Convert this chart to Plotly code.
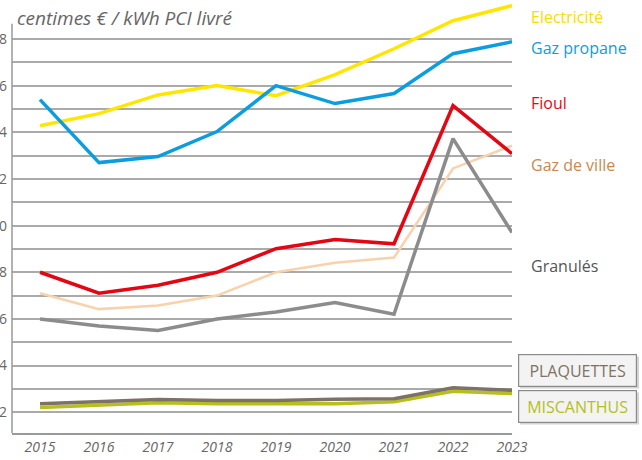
import plotly.graph_objects as go

years = [2015, 2016, 2017, 2018, 2019, 2020, 2021, 2022, 2023]

electricite = [14.28, 14.8, 15.6, 16.0, 15.57, 16.47, 17.58, 18.78, 19.43]
gaz_propane = [15.4, 12.7, 12.96, 14.03, 16.0, 15.23, 15.66, 17.37, 17.88]
fioul = [8.0, 7.1, 7.44, 8.0, 9.01, 9.4, 9.22, 15.14, 13.08]
gaz_de_ville = [7.1, 6.42, 6.58, 7.0, 8.0, 8.41, 8.63, 12.45, 13.43]
granules = [6.0, 5.7, 5.5, 6.0, 6.3, 6.7, 6.2, 13.73, 9.7]
plaquettes = [2.36, 2.47, 2.55, 2.5, 2.5, 2.56, 2.58, 3.05, 2.94]
miscanthus = [2.2, 2.3, 2.41, 2.36, 2.36, 2.36, 2.45, 2.9, 2.8]

y_ticks = list(range(2, 19))
y_ticktext = [str(v) if v % 2 == 0 else "" for v in y_ticks]

series = [
    ("Miscanthus", miscanthus, "#b6bf1c", 3.5),
    ("Plaquettes", plaquettes, "#7d7265", 3.5),
    ("Gaz de ville", gaz_de_ville, "#f7d2ad", 2.5),
    ("Granulés", granules, "#8c8c8c", 3.5),
    ("Fioul", fioul, "#e30613", 3.5),
    ("Electricité", electricite, "#ffe600", 3.5),
    ("Gaz propane", gaz_propane, "#0b9ddf", 3.5),
]

fig = go.Figure()
for name, vals, color, w in series:
    fig.add_trace(go.Scatter(x=years, y=vals, mode="lines", name=name,
                             line=dict(color=color, width=w), showlegend=False))

FONT = "Open Sans"
H_PLOT = 433.0

def py(pix):
    return (H_PLOT - pix) / H_PLOT

def px(pix):
    return (pix - 12) / 500.0

labels = [
    ("Electricité", "#f5dd00", 17),
    ("Gaz propane", "#0b9ddf", 48),
    ("Fioul", "#e30613", 103),
    ("Gaz de ville", "#c8884f", 165),
    ("Granulés", "#555555", 266),
]
for text, color, ypix in labels:
    fig.add_annotation(x=px(529), y=py(ypix), xref="paper", yref="paper",
                       text=text, showarrow=False, xanchor="left", yanchor="middle",
                       font=dict(family=FONT, size=16, color=color))

boxes = [
    ("PLAQUETTES", "#7d7265", 370.5),
    ("MISCANTHUS", "#b6bf1c", 406.5),
]
for text, color, ypix in boxes:
    # soft shadow behind the box
    fig.add_shape(type="rect", xref="paper", yref="paper",
                  x0=px(520), x1=px(639), y0=py(ypix + 18), y1=py(ypix - 14),
                  fillcolor="#d4d4d4", line=dict(width=0), layer="above")
    fig.add_annotation(x=px(577), y=py(ypix), xref="paper", yref="paper",
                       text=text, showarrow=False, xanchor="center", yanchor="middle",
                       width=117, height=31, borderpad=0, bgcolor="#f3f3f3",
                       bordercolor="#8a8a8a", borderwidth=1.2,
                       font=dict(family=FONT, size=16, color=color))

fig.add_annotation(x=px(15), y=py(18), xref="paper", yref="paper",
                   text="<i>centimes € / kWh PCI livré</i>", showarrow=False,
                   xanchor="left", yanchor="middle",
                   font=dict(family=FONT, size=19, color="#666666"))

# vertical axis line
fig.add_shape(type="line", xref="paper", yref="y", x0=0, x1=0, y0=1.11, y1=18.65,
              line=dict(color="#999999", width=1.5))

fig.update_layout(
    width=642, height=460,
    margin=dict(l=12, r=130, t=0, b=27),
    paper_bgcolor="white", plot_bgcolor="white",
    font=dict(family=FONT),
    xaxis=dict(range=[2014.525, 2023], tickvals=years,
               ticktext=["<i>%d</i>" % y for y in years],
               showgrid=False, zeroline=False, showline=True,
               linecolor="#999999", linewidth=1.5,
               tickfont=dict(family=FONT, size=14, color="#666666"),
               ticks="", fixedrange=True),
    yaxis=dict(range=[1.11, 19.67], tickvals=y_ticks, ticktext=y_ticktext,
               showgrid=True, gridcolor="#aaaaaa", gridwidth=1.5,
               zeroline=False, showline=False, automargin=False,
               tickfont=dict(family=FONT, size=14, color="#666666"),
               ticks="", ticklabelstandoff=4),
)

fig.write_html("out.html", config={"displayModeBar": False},
               post_script="document.body.style.margin='0';")
